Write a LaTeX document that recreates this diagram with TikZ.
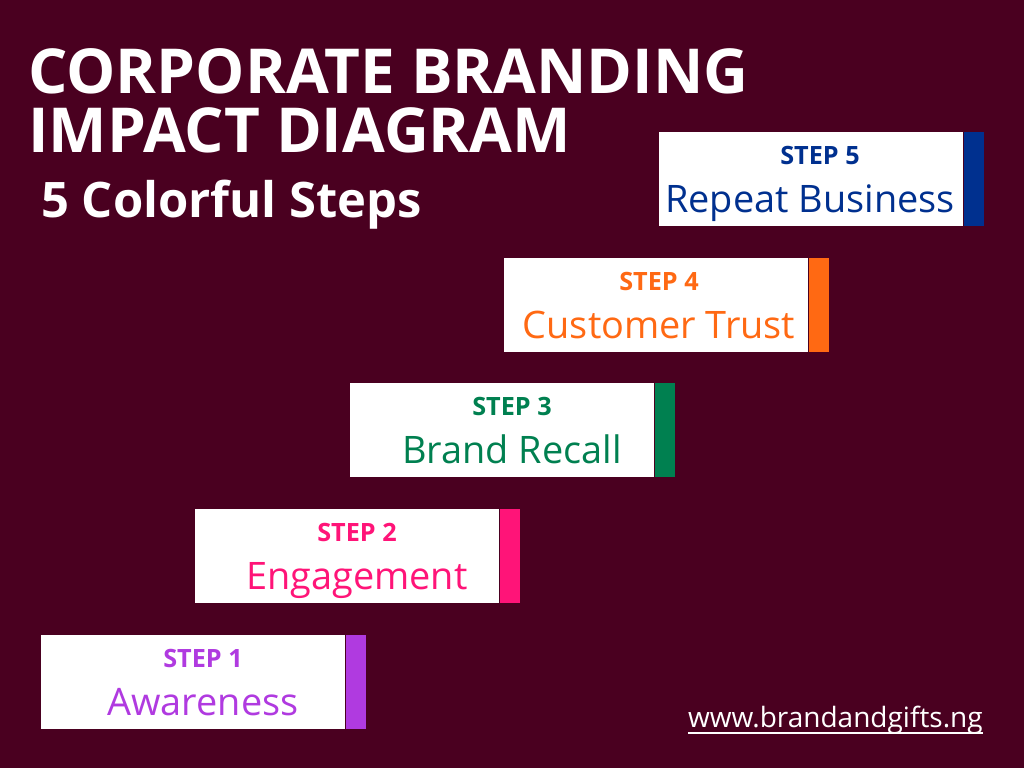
\documentclass[tikz,border=0pt]{standalone}
\usepackage{fontspec}
\setmainfont{Open Sans}
\definecolor{bgc}{RGB}{74,0,32}
\definecolor{c1}{RGB}{176,58,224}
\definecolor{c2}{RGB}{255,20,120}
\definecolor{c3}{RGB}{0,128,80}
\definecolor{c4}{RGB}{255,105,19}
\definecolor{c5}{RGB}{0,48,143}
\tikzset{
  card/.style={fill=white, draw=none, inner sep=0pt, minimum width=228pt, minimum height=70.5pt, anchor=north west},
  bar/.style={fill=#1, draw=none, inner sep=0pt, minimum width=15pt, minimum height=70.5pt, anchor=north west},
  steplbl/.style={text=#1, font=\bfseries\fontsize{18.9}{22}\selectfont, anchor=base, inner sep=0pt},
  stepname/.style={text=#1, font=\fontsize{28.4}{32}\selectfont, anchor=base, inner sep=0pt},
  title/.style={text=white, font=\bfseries\fontsize{46.5}{50}\selectfont, anchor=base west, inner sep=0pt},
}
\newcommand\mkstep[7]{%
  \node[card] (w#1) at (#2,#3) {};
  \node[bar=#4] (b#1) at (w#1.north east) {};
  \node[steplbl=#4] (s#1) at (#7,#3+32) {STEP #1};
  \node[stepname=#4] (n#1) at (#6,#3+80) {#5};
}
\begin{document}
\begin{tikzpicture}[x=0.75pt,y=-0.75pt]
\fill[bgc] (0,0) rectangle (1024,768);
\useasboundingbox (0,0) rectangle (1024,768);
\node[title] (t1) at (28,93) {CORPORATE BRANDING};
\node[title] (t2) at (28,152) {IMPACT DIAGRAM};
\node[text=white, font=\bfseries\fontsize{36.7}{40}\selectfont, anchor=base west, inner sep=0pt] (sub) at (41,217) {5 Colorful Steps};
\mkstep{5}{659}{132}{c5}{Repeat Business}{810}{820}
\mkstep{4}{504}{258}{c4}{Customer Trust}{659}{659}
\mkstep{3}{350}{383}{c3}{Brand Recall}{512}{512}
\mkstep{2}{195}{509}{c2}{Engagement}{357}{357}
\mkstep{1}{41}{635}{c1}{Awareness}{203}{203}
\node[text=white, font=\fontsize{21}{24}\selectfont, anchor=base east, inner sep=0pt] (url) at (983,727) {www.brandandgifts.ng};
\draw[white, line width=1.2pt] ([yshift=-4.5pt]url.base west) -- ([yshift=-4.5pt]url.base east);
\end{tikzpicture}
\end{document}
